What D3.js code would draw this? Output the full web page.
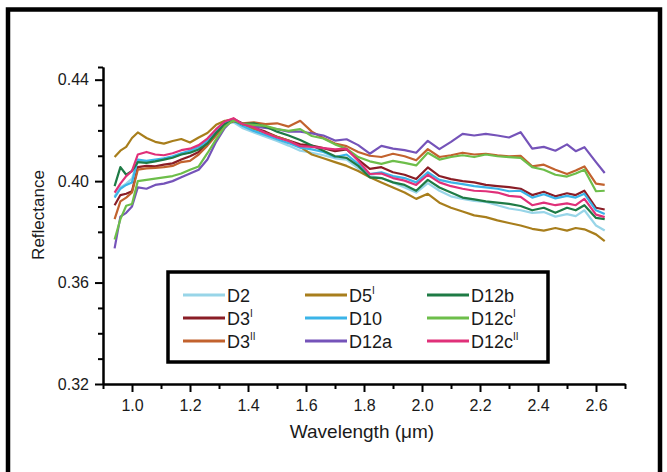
<!DOCTYPE html>
<html>
<head>
<meta charset="utf-8">
<script src="https://cdn.jsdelivr.net/npm/d3@7"></script>
<style>
  body { margin: 0; background: #fff; }
  #chart { width: 667px; height: 472px; }
  text { font-family: "Liberation Sans", Arial, sans-serif; fill: #1a1a1a; }
  .axis path, .axis line { stroke: #000; stroke-width: 2; }
  .axis text { font-size: 16px; }
</style>
</head>
<body>
<div id="chart"></div>
<script>
const wavelength = [0.94, 0.96, 0.98, 1.00, 1.02, 1.05, 1.08, 1.11, 1.14, 1.17,
  1.20, 1.23, 1.26, 1.29, 1.32, 1.35, 1.38, 1.42, 1.46, 1.50,
  1.54, 1.58, 1.62, 1.66, 1.70, 1.74, 1.78, 1.82, 1.86, 1.90,
  1.94, 1.98, 2.02, 2.06, 2.10, 2.14, 2.18, 2.22, 2.26, 2.30,
  2.34, 2.38, 2.42, 2.46, 2.50, 2.53, 2.56, 2.60, 2.63];

// reflectance of each sample
const d2 = [0.3940, 0.3975, 0.3990, 0.4010, 0.4080, 0.4075, 0.4080, 0.4088, 0.4095, 0.4105,
  0.4115, 0.4130, 0.4155, 0.4195, 0.4228, 0.4232, 0.4210, 0.4192, 0.4175, 0.4158,
  0.4140, 0.4120, 0.4112, 0.4102, 0.4090, 0.4085, 0.4050, 0.4020, 0.4012, 0.3995,
  0.3975, 0.3955, 0.3992, 0.3962, 0.3940, 0.3930, 0.3922, 0.3918, 0.3905, 0.3892,
  0.3885, 0.3875, 0.3878, 0.3860, 0.3870, 0.3862, 0.3885, 0.3825, 0.3805];
const d3a = [0.3905, 0.3945, 0.3950, 0.3960, 0.4055, 0.4060, 0.4058, 0.4065, 0.4070, 0.4085,
  0.4098, 0.4115, 0.4150, 0.4195, 0.4235, 0.4245, 0.4228, 0.4210, 0.4195, 0.4175,
  0.4160, 0.4145, 0.4140, 0.4130, 0.4118, 0.4125, 0.4085, 0.4048, 0.4055, 0.4035,
  0.4025, 0.4008, 0.4054, 0.4020, 0.4008, 0.4000, 0.3995, 0.3985, 0.3980, 0.3976,
  0.3970, 0.3945, 0.3958, 0.3940, 0.3952, 0.3945, 0.3962, 0.3895, 0.3888];
const d3b = [0.3850, 0.3920, 0.3935, 0.3955, 0.4045, 0.4050, 0.4052, 0.4055, 0.4060, 0.4075,
  0.4080, 0.4105, 0.4140, 0.4180, 0.4225, 0.4235, 0.4228, 0.4232, 0.4225, 0.4228,
  0.4215, 0.4238, 0.4195, 0.4170, 0.4148, 0.4138, 0.4115, 0.4100, 0.4095, 0.4108,
  0.4098, 0.4082, 0.4126, 0.4095, 0.4102, 0.4112, 0.4105, 0.4108, 0.4102, 0.4098,
  0.4100, 0.4058, 0.4065, 0.4045, 0.4028, 0.4042, 0.4058, 0.3990, 0.3985];
const d5 = [0.4095, 0.4120, 0.4135, 0.4170, 0.4192, 0.4170, 0.4155, 0.4148, 0.4158, 0.4166,
  0.4152, 0.4172, 0.4190, 0.4222, 0.4238, 0.4242, 0.4225, 0.4205, 0.4190, 0.4175,
  0.4160, 0.4135, 0.4105, 0.4090, 0.4075, 0.4060, 0.4040, 0.4015, 0.3995, 0.3975,
  0.3955, 0.3930, 0.3950, 0.3915, 0.3895, 0.3880, 0.3865, 0.3858, 0.3845, 0.3835,
  0.3825, 0.3812, 0.3805, 0.3815, 0.3805, 0.3815, 0.3810, 0.3790, 0.3763];
const d10 = [0.3935, 0.3970, 0.3985, 0.3995, 0.4085, 0.4080, 0.4085, 0.4090, 0.4098, 0.4110,
  0.4120, 0.4135, 0.4160, 0.4200, 0.4232, 0.4238, 0.4218, 0.4198, 0.4182, 0.4165,
  0.4150, 0.4132, 0.4125, 0.4115, 0.4095, 0.4105, 0.4068, 0.4028, 0.4035, 0.4020,
  0.4012, 0.3995, 0.4035, 0.4005, 0.3995, 0.3988, 0.3980, 0.3975, 0.3970, 0.3960,
  0.3962, 0.3935, 0.3948, 0.3932, 0.3942, 0.3935, 0.3950, 0.3885, 0.3870];
const d12a = [0.3735, 0.3860, 0.3875, 0.3900, 0.3975, 0.3970, 0.3985, 0.3990, 0.4000, 0.4015,
  0.4030, 0.4045, 0.4085, 0.4155, 0.4210, 0.4245, 0.4225, 0.4215, 0.4210, 0.4205,
  0.4195, 0.4195, 0.4188, 0.4180, 0.4160, 0.4165, 0.4142, 0.4108, 0.4139, 0.4128,
  0.4122, 0.4112, 0.4159, 0.4126, 0.4155, 0.4186, 0.4180, 0.4186, 0.4180, 0.4172,
  0.4193, 0.4128, 0.4135, 0.4120, 0.4145, 0.4118, 0.4134, 0.4075, 0.4032];
const d12b = [0.3980, 0.4055, 0.4025, 0.4040, 0.4075, 0.4072, 0.4078, 0.4085, 0.4092, 0.4105,
  0.4112, 0.4125, 0.4148, 0.4190, 0.4225, 0.4238, 0.4225, 0.4228, 0.4215, 0.4195,
  0.4180, 0.4162, 0.4140, 0.4120, 0.4098, 0.4092, 0.4060, 0.4015, 0.4012, 0.3995,
  0.3985, 0.3962, 0.4005, 0.3975, 0.3955, 0.3935, 0.3928, 0.3920, 0.3915, 0.3910,
  0.3902, 0.3885, 0.3895, 0.3875, 0.3895, 0.3885, 0.3905, 0.3855, 0.3850];
const d12c1 = [0.3770, 0.3850, 0.3903, 0.3910, 0.4000, 0.4005, 0.4010, 0.4015, 0.4020, 0.4030,
  0.4045, 0.4058, 0.4110, 0.4165, 0.4215, 0.4240, 0.4225, 0.4222, 0.4218, 0.4205,
  0.4198, 0.4205, 0.4178, 0.4168, 0.4145, 0.4128, 0.4095, 0.4078, 0.4068, 0.4080,
  0.4072, 0.4062, 0.4112, 0.4085, 0.4095, 0.4102, 0.4095, 0.4105, 0.4098, 0.4095,
  0.4092, 0.4055, 0.4045, 0.4025, 0.4018, 0.4030, 0.4045, 0.3960, 0.3962];
const d12c2 = [0.3955, 0.3990, 0.4020, 0.4040, 0.4105, 0.4115, 0.4105, 0.4102, 0.4110, 0.4122,
  0.4128, 0.4142, 0.4168, 0.4205, 0.4235, 0.4248, 0.4225, 0.4212, 0.4190, 0.4172,
  0.4158, 0.4138, 0.4135, 0.4130, 0.4125, 0.4128, 0.4080, 0.4028, 0.4030, 0.4012,
  0.4002, 0.3985, 0.4025, 0.3995, 0.3980, 0.3970, 0.3962, 0.3960, 0.3955, 0.3942,
  0.3938, 0.3905, 0.3915, 0.3905, 0.3912, 0.3905, 0.3930, 0.3868, 0.3858];

// legend names: base text + roman superscript
const names = ["D2", "D3", "D3", "D5", "D10", "D12a", "D12b", "D12c", "D12c"];
const sups = ["", "I", "II", "I", "", "", "", "I", "II"];
const colors = ["#98d5e8", "#8a1d26", "#c2622e", "#a87e1c", "#3bb4e8",
  "#7553b9", "#1e7b45", "#6dbe4a", "#e03079"];
const values = [d2, d3a, d3b, d5, d10, d12a, d12b, d12c1, d12c2];

const yMajor = [0.32, 0.36, 0.40, 0.44];
const xMajor = [1.0, 1.2, 1.4, 1.6, 1.8, 2.0, 2.2, 2.4, 2.6];

const width = 667;
const height = 472;
const margin = {top: 67, left: 103, right: 42, bottom: 88};

const svg = d3.select("#chart")
  .append("svg")
  .attr("width", width)
  .attr("height", height);

// outer frame, open at the bottom
svg.append("path")
  .attr("d", "M8,480 L8,9.5 L660,9.5 L660,480")
  .attr("fill", "none")
  .attr("stroke", "#000")
  .attr("stroke-width", 4.5);

const xScale = d3.scaleLinear()
  .domain([0.9, 2.7])
  .range([margin.left, width - margin.right]);

const yScale = d3.scaleLinear()
  .domain([0.32, 0.445])
  .range([height - margin.bottom, margin.top]);

// minor ticks first, then major ticks with labels
const yMinor = d3.range(33, 45).map(v => v / 100).filter(v => !yMajor.some(m => Math.abs(m - v) < 1e-6)).concat([0.445]);
const xMinor = d3.range(9, 28, 2).map(v => v / 10);

svg.append("g")
  .attr("class", "axis")
  .attr("transform", `translate(${margin.left},0)`)
  .call(d3.axisLeft(yScale).tickValues(yMinor).tickSize(5).tickSizeOuter(0).tickFormat(""));

svg.append("g")
  .attr("class", "axis")
  .attr("transform", `translate(${margin.left},0)`)
  .call(d3.axisLeft(yScale).tickValues(yMajor).tickSize(8).tickSizeOuter(0).tickPadding(6).tickFormat(d3.format(".2f")));

svg.append("g")
  .attr("class", "axis")
  .attr("transform", `translate(0,${height - margin.bottom})`)
  .call(d3.axisBottom(xScale).tickValues(xMinor).tickSize(5).tickSizeOuter(0).tickFormat(""));

svg.append("g")
  .attr("class", "axis")
  .attr("transform", `translate(0,${height - margin.bottom})`)
  .call(d3.axisBottom(xScale).tickValues(xMajor).tickSize(8).tickSizeOuter(0).tickPadding(8).tickFormat(d3.format(".1f")));

// spectra
const line = d3.line()
  .x((d, i) => xScale(wavelength[i]))
  .y(d => yScale(d));

svg.selectAll(".spectrum")
  .data(values)
  .enter()
  .append("path")
    .attr("class", "spectrum")
    .attr("d", d => line(d))
    .attr("fill", "none")
    .attr("stroke", (d, i) => colors[i])
    .attr("stroke-width", 2.2)
    .attr("stroke-linejoin", "round");

// axis titles
svg.append("text")
  .attr("x", 362)
  .attr("y", 438)
  .attr("text-anchor", "middle")
  .style("font-size", "19px")
  .text("Wavelength (\u03bcm)");

svg.append("text")
  .attr("transform", "rotate(-90)")
  .attr("x", -215)
  .attr("y", 44)
  .attr("text-anchor", "middle")
  .style("font-size", "17px")
  .text("Reflectance");

// legend box
const legend = svg.append("g");

legend.append("rect")
  .attr("x", 168)
  .attr("y", 272)
  .attr("width", 380)
  .attr("height", 90)
  .attr("fill", "#fff")
  .attr("stroke", "#000")
  .attr("stroke-width", 3.5);

const colX = [183, 305, 427];
const rowY = [295, 318, 341];

const items = legend.selectAll(".item")
  .data(names)
  .enter()
  .append("g")
    .attr("class", "item")
    .attr("transform", (d, i) => `translate(${colX[Math.floor(i / 3)]},${rowY[i % 3]})`);

items.append("line")
  .attr("x1", 0)
  .attr("x2", 42)
  .attr("stroke", (d, i) => colors[i])
  .attr("stroke-width", 3);

const labels = items.append("text")
  .attr("x", 44)
  .attr("y", 7)
  .style("font-size", "18px");

labels.append("tspan").text(d => d);
labels.append("tspan")
  .attr("dy", -8)
  .style("font-size", "10px")
  .text((d, i) => sups[i]);
</script>
</body>
</html>
